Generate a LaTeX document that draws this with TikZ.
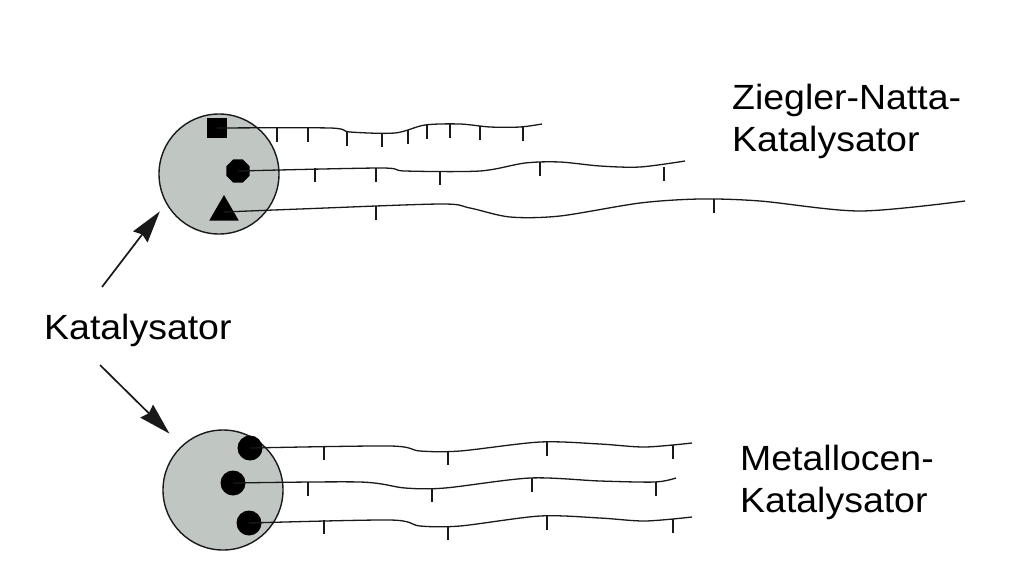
\documentclass[tikz,border=0pt]{standalone}
\usepackage{fontspec}
\setmainfont{Liberation Sans}[FakeStretch=1.07]
\usetikzlibrary{arrows.meta, positioning, shapes.geometric}
\definecolor{carriergray}{RGB}{192,199,195}
\definecolor{inkdark}{RGB}{25,25,25}
\begin{document}
\begin{tikzpicture}[x=1pt,y=-1pt,
        font=\fontsize{35}{42}\selectfont,
        carrier/.style={circle,draw=inkdark,line width=1.4pt,fill=carriergray,
                        minimum size=120pt,inner sep=0pt},
        site/.style={fill=black,inner sep=0pt},
        chain/.style={line width=1.3pt,inkdark},
        branch/.style={line width=1.1pt,inkdark},
        pointer/.style={-{Stealth[length=32pt,width=18pt,inset=3pt]},line width=1.7pt,inkdark}]
      \useasboundingbox (0,0) rectangle (1032,560);
      % Ziegler-Natta catalyst with three kinds of sites
      \node[carrier] (zn) at (219,174) {};
      \node[site,rectangle,minimum size=20pt] (sq) at (217,128) {};
      \node[site,regular polygon,regular polygon sides=8,minimum size=25pt] (oc) at (238,171) {};
      \node[site,regular polygon,regular polygon sides=3,minimum size=34pt] (tr) at (224,212) {};
      \draw[chain] plot[smooth,tension=.5] coordinates {(sq.center) (330,128) (350,132) (395,133)
        (425,125) (460,124) (490,127) (520,127) (542,124)};
      \draw[chain] plot[smooth,tension=.5] coordinates {(oc.center) (380,168) (405,171) (480,171)
        (525,163) (560,162) (600,166) (640,167) (685,161)};
      \draw[chain] plot[smooth,tension=.5] coordinates {(tr.center) (300,209) (440,204) (470,208)
        (510,217) (560,216) (640,203) (700,199) (760,201) (860,211) (965,201)};
      \foreach \x/\y in {277/128,308/128,347/132,382/133,408/130,427/125,450/124,480/126,523/127,
                         315/168,376/168,440/171,540/162,664/167,376/206,714/199}
        \draw[branch] (\x,\y) -- ++(0,14);
      % metallocene catalyst with identical sites
      \node[carrier] (mc) at (223,490) {};
      \node[site,circle,minimum size=25pt] (d1) at (250,448) {};
      \node[site,circle,minimum size=25pt] (d2) at (233,483) {};
      \node[site,circle,minimum size=25pt] (d3) at (249,523) {};
      \draw[chain] plot[smooth,tension=.5] coordinates {(d1.center) (390,446) (420,451) (460,451)
        (540,442) (600,444) (645,447) (692,443)};
      \draw[chain] plot[smooth,tension=.5] coordinates {(d2.center) (360,482) (405,488) (445,488)
        (530,478) (600,481) (655,482) (676,478)};
      \draw[chain] plot[smooth,tension=.5] coordinates {(d3.center) (390,520) (420,526) (460,526)
        (540,516) (600,518) (645,521) (692,517)};
      \foreach \x/\y in {324/446,448/451,547/442,673/445,
                         308/482,432/488,532/478,656/482,
                         324/520,448/526,547/516,673/519}
        \draw[branch] (\x,\y) -- ++(0,14);
      % labels
      \node[anchor=base west,align=left,inner sep=0pt] (zntext) at (732,151) {Ziegler-Natta-\\Katalysator};
      \node[anchor=base west,align=left,inner sep=0pt] (mctext) at (740,512) {Metallocen-\\Katalysator};
      \node[anchor=base west,inner sep=0pt] (kat) at (44,339) {Katalysator};
      \coordinate (up) at (102,287);
      \coordinate (down) at (100,365);
      \draw[pointer,shorten >=10pt] (up) -- (zn.209);
      \draw[pointer,shorten >=17pt] (down) -- (mc.133);
\end{tikzpicture}
\end{document}
